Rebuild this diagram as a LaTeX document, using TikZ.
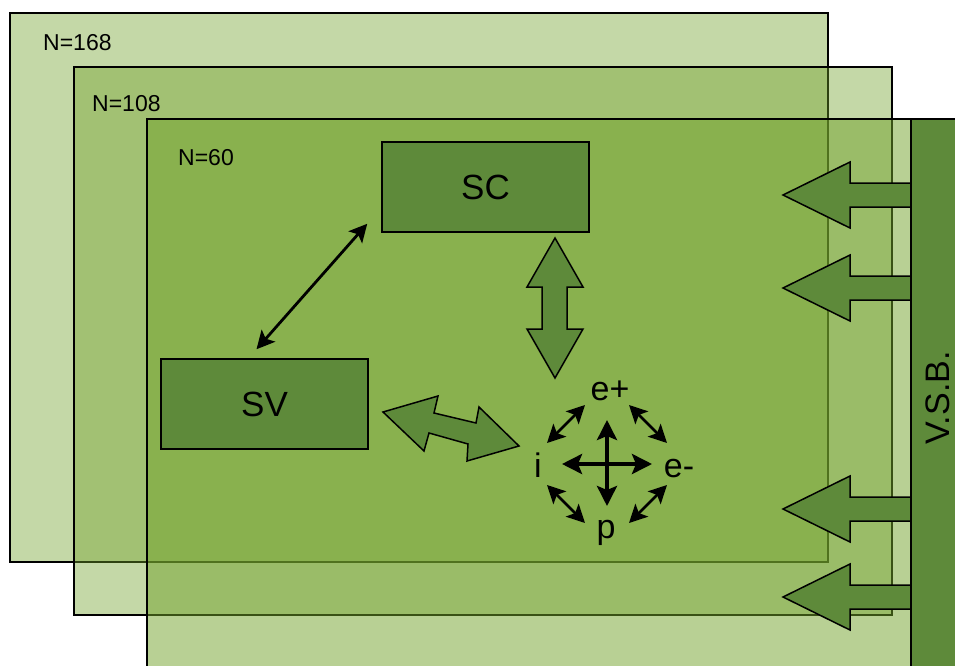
\documentclass[tikz,border=0pt]{standalone}
\usepackage{fontspec}
\setmainfont{Liberation Sans}
\usetikzlibrary{arrows.meta,calc}

\definecolor{leaf}{RGB}{114,162,43}
\definecolor{moss}{RGB}{94,138,58}

\begin{document}
\begin{tikzpicture}[
			x=1pt, y=-1pt,
			layer/.style={draw=black, line width=1.2pt, fill=leaf, fill opacity=0.41},
			box/.style={draw=black, line width=1.5pt, fill=moss, minimum width=207pt, minimum height=90pt, inner sep=0pt, font=\fontsize{35}{35}\selectfont},
			block/.style={draw=black, line width=1.5pt, fill=moss, line join=miter},
			tag/.style={anchor=base west, inner sep=0pt, font=\fontsize{23}{23}\selectfont},
			ion/.style={anchor=base, inner sep=0pt, font=\fontsize{34}{34}\selectfont},
			link/.style={{Stealth[length=18pt,width=18pt,inset=4pt]}-{Stealth[length=18pt,width=18pt,inset=4pt]}, line width=2.8pt},
			cross/.style={{Stealth[length=20pt,width=20pt,inset=4pt]}-{Stealth[length=20pt,width=20pt,inset=4pt]}, line width=3.8pt}
			]
			\useasboundingbox (0,0) rectangle (955,666);
			\clip (0,0) rectangle (955,666);
			\fill[white] (0,0) rectangle (955,666);
			% the three layers
			\draw[layer] (10,13) rectangle (828,562);
			\draw[layer] (74,67) rectangle (892,615);
			\draw[layer, fill opacity=0.5] (147,119) rectangle (970,690);
			\node[tag] (n168) at (43,51) {N=168};
			\node[tag] (n108) at (92,112) {N=108};
			\node[tag] (n60) at (178,165) {N=60};
			% arrows out of the V.S.B.
			\foreach \c in {195,288,509,597}
				\draw[block] (920,\c-12) -- (850,\c-12) -- (850,\c-33) -- (783,\c)
					-- (850,\c+33) -- (850,\c+12) -- (920,\c+12);
			\draw[fill=moss, line width=1.5pt] (911,119) rectangle (970,690);
			\node[rotate=90, font=\fontsize{34}{34}\selectfont] (vsb) at (938,398) {V.S.B.};
			% boxes
			\node[box] (sc) at (485.5,187) {SC};
			\node[box] (sv) at (264.5,404) {SV};
			\draw[link] ([shift={(-14,-9)}]sc.south west) -- ([shift={(-8,-9)}]sv.north);
			\draw[block] (555,238) -- (583,287) -- (567,287) -- (567,329) -- (583,329)
				-- (555,378) -- (527,329) -- (542,329) -- (542,287) -- (527,287) -- cycle;
			\draw[block] (383,412) -- (438,396) -- (434,413) -- (476,423) -- (479,407)
				-- (519,446) -- (467,461) -- (468,444) -- (429,433) -- (424,451) -- cycle;
			% particles
			\coordinate (mid) at (607,464);
			\node[ion] (ep) at (610,400) {e+};
			\node[ion] (em) at (679,477) {e-};
			\node[ion] (i) at (538,477) {i};
			\node[ion] (p) at (606,538) {p};
			\draw[cross] ($(mid)+(-45,0)$) -- ($(mid)+(45,0)$);
			\draw[cross] ($(mid)+(0,-44)$) -- ($(mid)+(0,42)$);
			\foreach \sx/\sy in {-1/-1,1/-1,-1/1,1/1}
				\draw[link] ($(mid)+(\sx*41+\sy*19,\sy*40-\sx*19)$) -- ($(mid)+(\sx*41-\sy*19,\sy*40+\sx*19)$);
		\end{tikzpicture}
\end{document}
